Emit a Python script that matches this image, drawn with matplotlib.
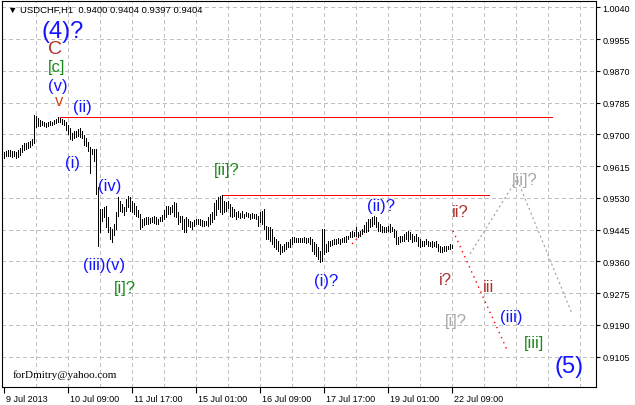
import matplotlib
matplotlib.use('Agg')
import matplotlib.pyplot as plt
import matplotlib.transforms as mtransforms

# H1 bars of USDCHF, 9 Jul 2013 01:00 .. 22 Jul 2013 09:00 (index = bar number)
highs = [
    0.9652, 0.9656, 0.9658, 0.9657, 0.9655, 0.9656, 0.9654, 0.9658, 0.9664, 0.9672, 0.9676, 0.9677, 0.9680, 0.9682, 0.9688, 0.9752,
    0.9750, 0.9745, 0.9738, 0.9735, 0.9733, 0.9730, 0.9732, 0.9735, 0.9734, 0.9738, 0.9741, 0.9746, 0.9744, 0.9740, 0.9738, 0.9734,
    0.9726, 0.9716, 0.9705, 0.9708, 0.9710, 0.9714, 0.9716, 0.9708, 0.9698, 0.9690, 0.9680, 0.9666, 0.9662, 0.9660, 0.9660, 0.9560,
    0.9500, 0.9501, 0.9506, 0.9509, 0.9479, 0.9452, 0.9447, 0.9460, 0.9492, 0.9533, 0.9522, 0.9514, 0.9506, 0.9527, 0.9535, 0.9533,
    0.9522, 0.9517, 0.9509, 0.9498, 0.9487, 0.9474, 0.9476, 0.9479, 0.9478, 0.9477, 0.9479, 0.9482, 0.9479, 0.9474, 0.9479, 0.9484,
    0.9498, 0.9509, 0.9509, 0.9506, 0.9511, 0.9519, 0.9517, 0.9492, 0.9482, 0.9482, 0.9474, 0.9479, 0.9474, 0.9468, 0.9466, 0.9471,
    0.9474, 0.9474, 0.9474, 0.9471, 0.9468, 0.9468, 0.9479, 0.9487, 0.9492, 0.9517, 0.9525, 0.9533, 0.9535, 0.9538, 0.9522, 0.9519,
    0.9522, 0.9514, 0.9506, 0.9501, 0.9492, 0.9495, 0.9490, 0.9494, 0.9488, 0.9492, 0.9490, 0.9487, 0.9489, 0.9486, 0.9487, 0.9482,
    0.9492, 0.9495, 0.9501, 0.9455, 0.9452, 0.9452, 0.9447, 0.9426, 0.9420, 0.9415, 0.9407, 0.9402, 0.9407, 0.9412, 0.9412, 0.9420,
    0.9426, 0.9426, 0.9423, 0.9423, 0.9423, 0.9423, 0.9426, 0.9423, 0.9423, 0.9426, 0.9420, 0.9412, 0.9407, 0.9399, 0.9388, 0.9447,
    0.9447, 0.9407, 0.9415, 0.9415, 0.9417, 0.9420, 0.9420, 0.9423, 0.9420, 0.9423, 0.9426, 0.9428, 0.9428, 0.9439, 0.9442, 0.9439,
    0.9452, 0.9439, 0.9442, 0.9447, 0.9458, 0.9466, 0.9474, 0.9474, 0.9479, 0.9482, 0.9479, 0.9466, 0.9460, 0.9455, 0.9452, 0.9452,
    0.9455, 0.9460, 0.9452, 0.9447, 0.9442, 0.9426, 0.9428, 0.9428, 0.9434, 0.9439, 0.9442, 0.9439, 0.9434, 0.9428, 0.9434, 0.9426,
    0.9420, 0.9415, 0.9415, 0.9420, 0.9415, 0.9412, 0.9415, 0.9412, 0.9415, 0.9407, 0.9402, 0.9399, 0.9402, 0.9402, 0.9402, 0.9407, 0.9404,
]
lows = [
    0.9638, 0.9641, 0.9643, 0.9642, 0.9640, 0.9641, 0.9638, 0.9640, 0.9645, 0.9652, 0.9659, 0.9660, 0.9663, 0.9665, 0.9671, 0.9678,
    0.9720, 0.9722, 0.9722, 0.9724, 0.9722, 0.9720, 0.9722, 0.9725, 0.9726, 0.9728, 0.9730, 0.9733, 0.9732, 0.9728, 0.9724, 0.9712,
    0.9700, 0.9688, 0.9685, 0.9690, 0.9692, 0.9695, 0.9694, 0.9690, 0.9672, 0.9668, 0.9656, 0.9596, 0.9648, 0.9630, 0.9540, 0.9402,
    0.9440, 0.9468, 0.9479, 0.9452, 0.9439, 0.9420, 0.9412, 0.9430, 0.9447, 0.9482, 0.9495, 0.9492, 0.9484, 0.9495, 0.9506, 0.9495,
    0.9492, 0.9487, 0.9482, 0.9479, 0.9447, 0.9452, 0.9458, 0.9460, 0.9461, 0.9462, 0.9466, 0.9463, 0.9460, 0.9460, 0.9468, 0.9468,
    0.9474, 0.9479, 0.9487, 0.9487, 0.9492, 0.9482, 0.9479, 0.9460, 0.9466, 0.9447, 0.9439, 0.9439, 0.9455, 0.9452, 0.9447, 0.9455,
    0.9460, 0.9460, 0.9458, 0.9455, 0.9455, 0.9458, 0.9455, 0.9460, 0.9466, 0.9474, 0.9484, 0.9501, 0.9492, 0.9487, 0.9492, 0.9495,
    0.9503, 0.9482, 0.9479, 0.9482, 0.9474, 0.9479, 0.9477, 0.9480, 0.9476, 0.9482, 0.9479, 0.9474, 0.9475, 0.9476, 0.9474, 0.9455,
    0.9466, 0.9460, 0.9447, 0.9420, 0.9420, 0.9415, 0.9407, 0.9399, 0.9393, 0.9388, 0.9380, 0.9385, 0.9388, 0.9393, 0.9399, 0.9399,
    0.9407, 0.9412, 0.9412, 0.9412, 0.9412, 0.9412, 0.9412, 0.9410, 0.9412, 0.9407, 0.9388, 0.9380, 0.9375, 0.9367, 0.9359, 0.9361,
    0.9380, 0.9385, 0.9388, 0.9402, 0.9404, 0.9407, 0.9407, 0.9410, 0.9407, 0.9412, 0.9412, 0.9412, 0.9420, 0.9426, 0.9426, 0.9428,
    0.9428, 0.9426, 0.9428, 0.9434, 0.9439, 0.9439, 0.9442, 0.9452, 0.9455, 0.9460, 0.9452, 0.9442, 0.9442, 0.9439, 0.9439, 0.9439,
    0.9442, 0.9439, 0.9442, 0.9426, 0.9407, 0.9407, 0.9412, 0.9415, 0.9415, 0.9420, 0.9415, 0.9420, 0.9412, 0.9415, 0.9415, 0.9402,
    0.9399, 0.9402, 0.9402, 0.9407, 0.9402, 0.9402, 0.9399, 0.9402, 0.9399, 0.9388, 0.9385, 0.9385, 0.9388, 0.9388, 0.9393, 0.9393, 0.9397,
]

time_ticks = [0, 32, 64, 96, 128, 160, 192, 224]
time_labels = ['9 Jul 2013', '10 Jul 09:00', '11 Jul 17:00', '15 Jul 01:00',
               '16 Jul 09:00', '17 Jul 17:00', '19 Jul 01:00', '22 Jul 09:00']
price_ticks = [1.0040, 0.9955, 0.9870, 0.9785, 0.9700, 0.9615,
               0.9530, 0.9445, 0.9360, 0.9275, 0.9190, 0.9105]

# horizontal levels: (price, from bar, to bar)
levels = [(0.9746, 28, 274), (0.9538, 109, 242.5)]
# projected wave paths (bar, price)
red_path_x = [224.5, 252]
red_path_y = [0.9442, 0.9118]
small_red_x = [174, 181]
small_red_y = [0.9407, 0.9447]
grey_path_x = [233, 256.5, 284]
grey_path_y = [0.9380, 0.9581, 0.9220]

BLUE = '#1414ff'
GREEN = '#1a8a1a'
BROWN = '#b03028'
GREY = '#a8a8a8'
# wave labels: (text, bar, price, colour, size)
labels = [
    ('(4)?', 29.5, 0.9977, BLUE, 17),
    ('C', 25.5, 0.9929, BROWN, 14),
    ('[c]', 26.5, 0.9881, GREEN, 12),
    ('(v)', 27, 0.9830, BLUE, 12),
    ('v', 27.5, 0.9792, '#d04a18', 12),
    ('(ii)', 39, 0.9774, BLUE, 12),
    ('(i)', 34.5, 0.9626, BLUE, 12),
    ('(iv)', 53, 0.9562, BLUE, 12),
    ('(iii)(v)', 50, 0.9353, BLUE, 12),
    ('[i]?', 60.5, 0.9289, GREEN, 12),
    ('[ii]?', 111.5, 0.9605, GREEN, 12),
    ('(i)?', 161, 0.9308, BLUE, 12),
    ('(ii)?', 188.5, 0.9509, BLUE, 12),
    ('ii?', 228, 0.9495, BROWN, 12),
    ('i?', 220.5, 0.9313, BROWN, 12),
    ('iii', 242, 0.9292, BROWN, 12),
    ('[i]?', 226, 0.9203, GREY, 12),
    ('(iii)', 253.5, 0.9214, BLUE, 12),
    ('[iii]', 265, 0.9142, GREEN, 12),
    ('(5)', 282.5, 0.9080, BLUE, 17),
    ('[ii]?', 260.5, 0.9578, GREY, 12),
]

W, H = 635, 406
fig = plt.figure(figsize=(W / 100, H / 100), dpi=100)
fig.patch.set_facecolor('white')
ax = fig.add_axes([2 / W, 18 / H, 594 / W, 386 / H])
ax.set_xlim(-1, 296)
ax.set_ylim(0.9024, 1.0057)

# grid
grid_style = dict(color='#c0c0c0', lw=0.72, linestyles=(0, (3, 3)), zorder=0,
                  antialiased=False)
ax.vlines(range(16, 296, 16), 0.9024, 1.0057, **grid_style)
ax.hlines(price_ticks, -1, 296, **grid_style)

# price bars
ax.vlines(range(len(highs)), lows, highs, color='black', lw=0.72,
          antialiased=False, zorder=3)

# levels and projections
for p, x0, x1 in levels:
    ax.hlines(p, x0, x1, color='#ff0000', lw=0.72, antialiased=False, zorder=2)
ax.plot(red_path_x, red_path_y, color='#ff0000', lw=1.0, ls=(0, (1, 3)), zorder=2)
ax.plot(small_red_x, small_red_y, color='#ff0000', lw=1.0, ls=(0, (1, 3)), zorder=2)
ax.plot(grey_path_x, grey_path_y, color='#a0a0a0', lw=0.8, ls=(0, (2, 2.5)), zorder=2)

for s, bx, py, col, fs in labels:
    ax.text(bx, py, s, color=col, fontsize=fs, ha='center', va='center',
            family=['Liberation Sans', 'DejaVu Sans'], zorder=4)

# axes
for sp in ax.spines.values():
    sp.set_linewidth(0.8)
    sp.set_color('black')
ax.yaxis.tick_right()
ax.set_yticks(price_ticks)
ax.set_yticklabels(['%.4f' % p for p in price_ticks])
ax.set_xticks(time_ticks)
ax.set_xticklabels(time_labels)
ax.tick_params(axis='y', length=3, width=0.8, pad=1.5, labelsize=6.5,
               labelfontfamily='Liberation Sans')
ax.tick_params(axis='x', length=4.5, width=0.8, pad=0.5, labelsize=6.5,
               labelfontfamily='Liberation Sans')
shift = mtransforms.ScaledTranslation(2 / 100, 0, fig.dpi_scale_trans)
for lab in ax.get_xticklabels():
    lab.set_horizontalalignment('left')
    lab.set_transform(lab.get_transform() + shift)

fig.text(8 / W, 1 - 10 / H, '\u25bc USDCHF,H1  0.9400 0.9404 0.9397 0.9404',
         fontsize=6.8, va='center', ha='left', family=['Liberation Sans', 'DejaVu Sans'])
fig.text(13 / W, 1 - 375 / H, 'forDmitry@yahoo.com', fontsize=8, va='center',
         ha='left', family='Liberation Serif')

fig.savefig('out.png', dpi=100)
